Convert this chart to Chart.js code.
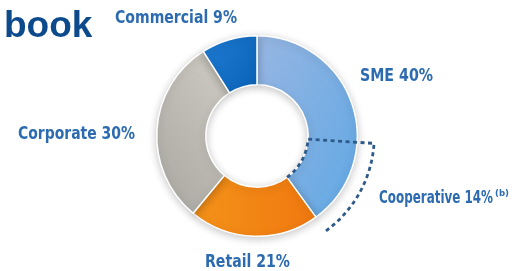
<!DOCTYPE html>
<html>
<head>
<meta charset="utf-8">
<script src="https://cdn.jsdelivr.net/npm/chart.js@4/dist/chart.umd.min.js"></script>
<style>
  html, body { margin: 0; padding: 0; background: #fff; }
  #wrap { position: relative; width: 512px; height: 271px; }
</style>
</head>
<body>
<div id="wrap"><canvas id="chart-book" width="512" height="271"></canvas></div>
<script>
// Loan book split (%)
const categories = ['SME', 'Retail', 'Corporate', 'Commercial'];
const shares = [40, 21, 30, 9];
const sliceLabels = ['SME 40%', 'Retail 21%', 'Corporate 30%', 'Commercial 9%'];
// Cooperative is a sub-part of SME
const cooperativeShare = 14;
const cooperativeLabel = 'Cooperative 14%';
const cooperativeNote = '(b)';
const titleText = 'book';

const LABEL_FONT = 'bold 18px "DejaVu Sans Condensed", "Liberation Sans Narrow", sans-serif';
const LABEL_COLOR = '#2c6bb0';

// label layout: left x, middle y, width of the printed text
const labelPos = {
    'SME': [360, 76, 73],
    'Retail': [205, 262, 85],
    'Corporate': [18, 134, 117],
    'Commercial': [115, 18, 122],
    'Cooperative': [379, 198, 114]
};

// draws text squeezed to a given width (the reference uses a condensed face)
function fitText(c, text, x, y, w) {
    const m = c.measureText(text).width;
    c.save();
    c.translate(x, y);
    c.scale(w / m, 1);
    c.fillText(text, 0, 0);
    c.restore();
}

function sliceGradient(context) {
    const chart = context.chart;
    const area = chart.chartArea;
    if (!area) return '#999';
    const c = chart.ctx;
    let g;
    switch (context.dataIndex) {
        case 0: // SME
            g = c.createLinearGradient(area.left + area.width * 0.5, area.top, area.right, area.top + area.height * 0.6);
            g.addColorStop(0, '#97b6e2');
            g.addColorStop(1, '#3c9fe6');
            return g;
        case 1: // Retail
            g = c.createLinearGradient(area.left + area.width * 0.15, 0, area.left + area.width * 0.75, 0);
            g.addColorStop(0, '#f6aa22');
            g.addColorStop(1, '#ef6a0a');
            return g;
        case 2: // Corporate
            g = c.createLinearGradient(area.left + area.width * 0.4, area.top, area.left, area.top + area.height * 0.8);
            g.addColorStop(0, '#cdcac2');
            g.addColorStop(1, '#8d8c87');
            return g;
        default: // Commercial
            g = c.createLinearGradient(area.left + area.width * 0.3, area.top, area.left + area.width * 0.5, area.top + area.height * 0.3);
            g.addColorStop(0, '#2a8ae0');
            g.addColorStop(1, '#0a62b8');
            return g;
    }
}

const shadowPlugin = {
    id: 'ringShadow',
    beforeDatasetsDraw(chart) {
        const c = chart.ctx;
        c.save();
        c.shadowColor = 'rgba(0,0,0,0.22)';
        c.shadowBlur = 8;
        c.shadowOffsetX = 0;
        c.shadowOffsetY = 2;
    },
    afterDatasetsDraw(chart) {
        chart.ctx.restore();
    }
};

const cooperativePlugin = {
    id: 'cooperative',
    afterDraw(chart) {
        const c = chart.ctx;
        const total = shares.reduce((a, b) => a + b, 0);
        const arc = chart.getDatasetMeta(0).data[0];
        const p = arc.getProps(['x', 'y', 'startAngle', 'endAngle', 'innerRadius', 'outerRadius'], true);
        const start = p.endAngle - cooperativeShare / total * Math.PI * 2;
        const outerR = p.outerRadius + 17;

        c.save();
        c.strokeStyle = '#2d5a88';
        c.lineWidth = 2.8;
        c.setLineDash([4, 3.5]);
        c.beginPath();
        c.arc(p.x, p.y, p.innerRadius, p.endAngle, start, true);
        c.lineTo(p.x + outerR * Math.cos(start), p.y + outerR * Math.sin(start));
        c.arc(p.x, p.y, outerR, start, p.endAngle, false);
        c.stroke();
        c.restore();

        // labels
        c.save();
        c.font = LABEL_FONT;
        c.fillStyle = LABEL_COLOR;
        c.textAlign = 'left';
        c.textBaseline = 'middle';
        categories.forEach((cat, i) => {
            const pos = labelPos[cat];
            fitText(c, sliceLabels[i], pos[0], pos[1], pos[2]);
        });
        const cp = labelPos['Cooperative'];
        fitText(c, cooperativeLabel, cp[0], cp[1], cp[2]);
        c.font = 'bold 9px "DejaVu Sans Condensed", sans-serif';
        fitText(c, cooperativeNote, cp[0] + cp[2] + 2, cp[1] - 4, 14);

        // partial title
        c.font = 'bold 37px "Liberation Sans", Arial, sans-serif';
        c.fillStyle = '#0d4a8c';
        c.textBaseline = 'alphabetic';
        c.fillText(titleText, 4, 37);
        c.restore();
    }
};

new Chart(document.getElementById('chart-book').getContext('2d'), {
    type: 'doughnut',
    data: {
        labels: categories,
        datasets: [{
            data: shares,
            backgroundColor: sliceGradient,
            borderColor: '#ffffff',
            borderWidth: 1.5
        }]
    },
    options: {
        responsive: false,
        animation: false,
        cutout: '51%',
        layout: { padding: { top: 35, bottom: 34, left: 2, right: 0 } },
        plugins: {
            legend: { display: false },
            tooltip: { enabled: false }
        }
    },
    plugins: [shadowPlugin, cooperativePlugin]
});
</script>
</body>
</html>
